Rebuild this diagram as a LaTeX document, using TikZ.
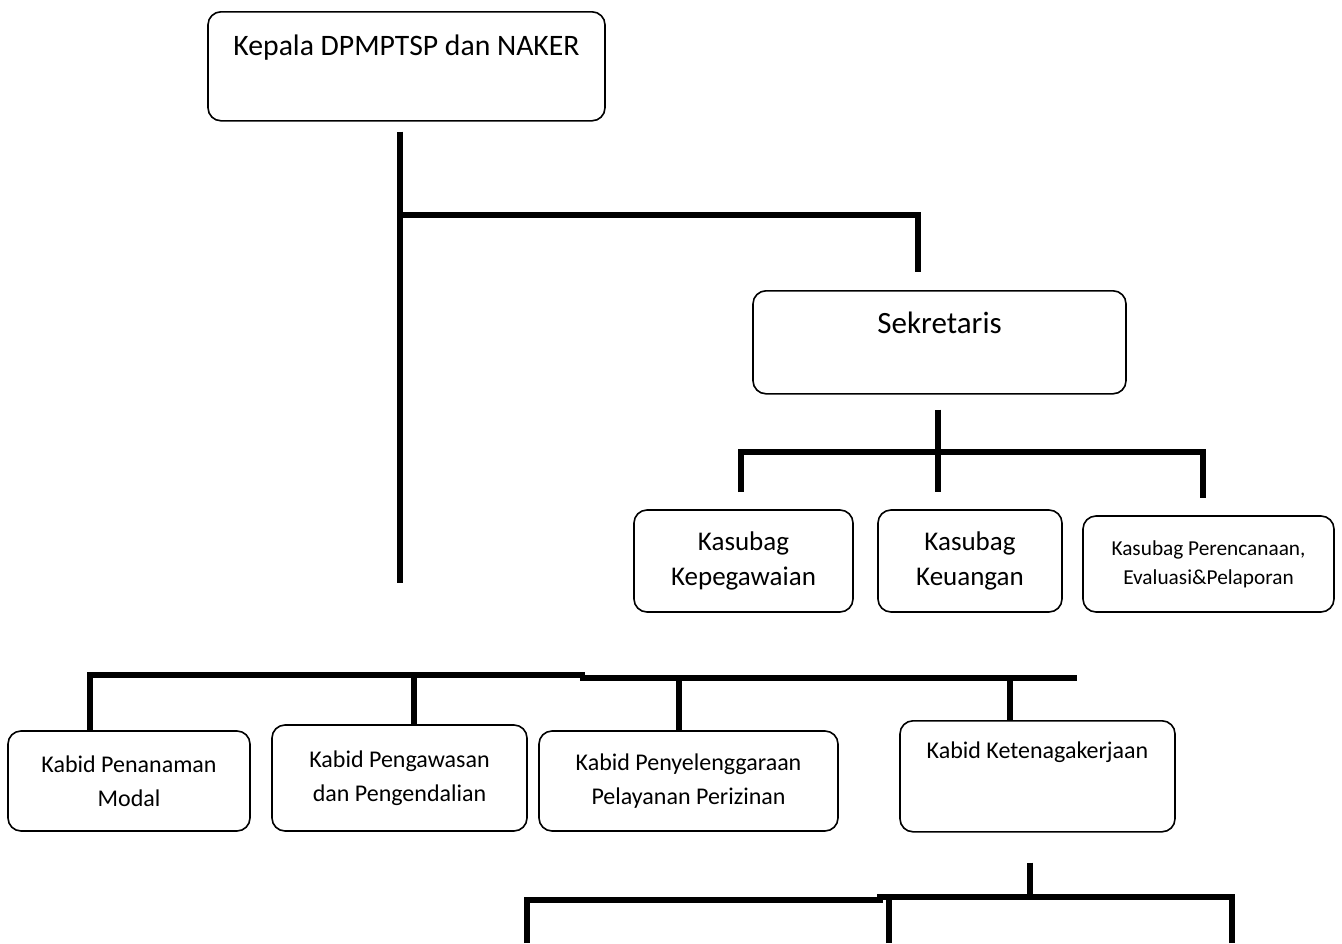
\documentclass[tikz,border=0pt]{standalone}
\usepackage{fontspec}
\setmainfont{Carlito}

\begin{document}
\begin{tikzpicture}[x=1pt, y=-1pt,
  box/.style={draw, rounded corners=13pt, line width=1.6pt, inner sep=0pt},
  textbox/.style={box, align=center},
  conn/.style={line width=6pt}]
  \useasboundingbox (0,0) rectangle (1342,943);
  \node[box, anchor=north, minimum width=397pt, text height=44pt, text depth=65pt, font=\fontsize{29.7}{36}\selectfont] (kepala) at (406.5,11) {Kepala DPMPTSP dan NAKER};
  \node[box, anchor=north, minimum width=373pt, text height=43pt, text depth=60pt, font=\fontsize{31}{38}\selectfont] (sekretaris) at (939.5,290) {Sekretaris};
  \node[textbox, minimum width=219pt, minimum height=102pt, font=\fontsize{27}{35}\selectfont] (kasubagpeg) at (743.5,561) {Kasubag\\Kepegawaian};
  \node[textbox, minimum width=184pt, minimum height=102pt, font=\fontsize{27}{35}\selectfont] (kasubagkeu) at (970,561) {Kasubag\\Keuangan};
  \node[textbox, minimum width=251pt, minimum height=96pt, font=\fontsize{21.3}{29}\selectfont] (kasubagren) at (1208.5,564) {Kasubag Perencanaan,\\Evaluasi\&Pelaporan};
  \node[textbox, minimum width=242pt, minimum height=100pt, font=\fontsize{24}{34}\selectfont] (kabidpen) at (129,781) {Kabid Penanaman\\Modal};
  \node[textbox, minimum width=255pt, minimum height=106pt, font=\fontsize{24}{34}\selectfont] (kabidpeng) at (399.5,778) {Kabid Pengawasan\\dan Pengendalian};
  \node[textbox, minimum width=299pt, minimum height=100pt, font=\fontsize{24}{34}\selectfont] (kabidpel) at (688.5,781) {Kabid Penyelenggaraan\\Pelayanan Perizinan};
  \node[box, anchor=north, minimum width=275pt, text height=38pt, text depth=73pt, font=\fontsize{24}{34}\selectfont] (kabidnaker) at (1037.5,720) {Kabid Ketenagakerjaan};

  \coordinate (trunk) at (400,583);
  \coordinate (split) at (400,215);
  \coordinate (sbus) at (938,452);
  \coordinate (kbusA) at (585,675);
  \coordinate (kbusB) at (580,678);
  \coordinate (kbusC) at (1077,678);
  \coordinate (nbusA) at (883,900);
  \coordinate (nbusB) at (877,897);
  \coordinate (nakerA) at (527,943);
  \coordinate (nakerB) at (889,943);
  \coordinate (nakerC) at (1232,943);

  \draw[conn] ([xshift=-6.5pt,yshift=-10pt]kepala.south) -- (trunk);
  \draw[conn] (split) -| ([xshift=-21.5pt,yshift=18pt]sekretaris.north);
  \draw[conn] ([xshift=-1.5pt,yshift=-15pt]sekretaris.south) -- ([yshift=17pt]kasubagkeu.north -| sbus);
  \draw[conn] ([xshift=-2.5pt,yshift=17pt]kasubagpeg.north) |- ([xshift=-5.5pt]sbus -| kasubagren.north) -- ([xshift=-5.5pt,yshift=17pt]kasubagren.north);
  \draw[conn] ([xshift=-39pt]kabidpen.north) |- (kbusA);
  \draw[conn] (kbusB) -- (kbusC);
  \draw[conn] ([xshift=14.5pt]kabidpeng.north) -- ([xshift=14.5pt]kabidpeng.north |- kbusA);
  \draw[conn] ([xshift=-9.5pt]kabidpel.north) -- ([xshift=-9.5pt]kabidpel.north |- kbusB);
  \draw[conn] ([xshift=-27.5pt]kabidnaker.north) -- ([xshift=-27.5pt]kabidnaker.north |- kbusB);
  \draw[conn] ([xshift=-7.5pt,yshift=-30pt]kabidnaker.south) -- ([xshift=-7.5pt]kabidnaker.south |- nbusB);
  \draw[conn] (nakerA) |- (nbusA);
  \draw[conn] (nakerC) |- (nbusB);
  \draw[conn] (nakerB) -- (nakerB |- nbusB);
\end{tikzpicture}
\end{document}
